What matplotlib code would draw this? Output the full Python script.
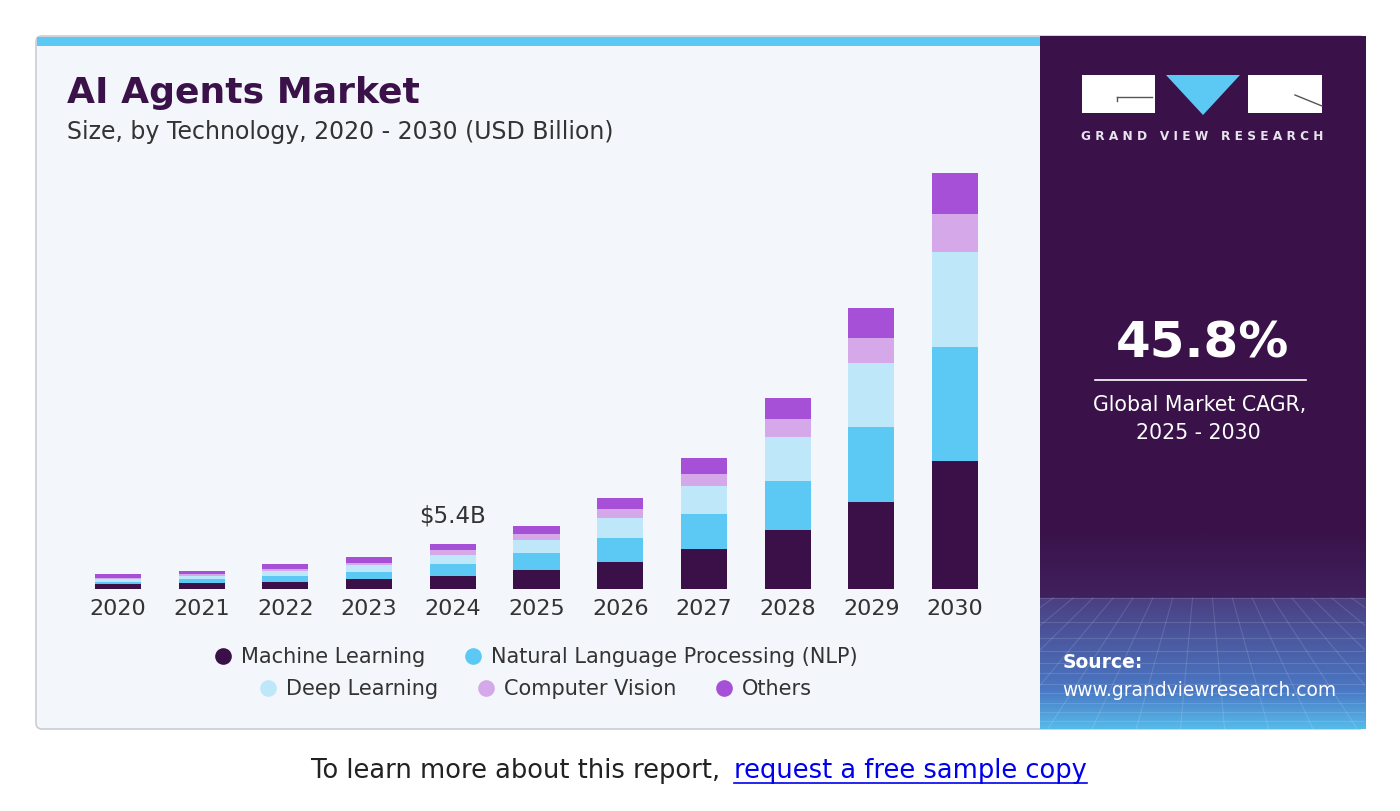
import numpy as np
import matplotlib.pyplot as plt
from matplotlib.patches import Rectangle, FancyBboxPatch, Polygon
from matplotlib.lines import Line2D
from matplotlib.transforms import IdentityTransform
from matplotlib.colors import to_rgb

# market size by technology, USD billion
years = ['2020', '2021', '2022', '2023', '2024', '2025', '2026', '2027', '2028', '2029', '2030']
machine_learning = [0.57, 0.69, 0.88, 1.17, 1.61, 2.29, 3.30, 4.83, 7.13, 10.47, 15.46]
nlp = [0.31, 0.48, 0.69, 0.85, 1.41, 2.02, 2.90, 4.19, 5.95, 9.13, 13.73]
deep_learning = [0.29, 0.40, 0.60, 0.88, 1.09, 1.61, 2.34, 3.42, 5.24, 7.66, 11.55]
computer_vision = [0.19, 0.20, 0.24, 0.28, 0.57, 0.69, 1.09, 1.41, 2.17, 3.02, 4.52]
others = [0.41, 0.43, 0.57, 0.72, 0.72, 1.04, 1.33, 1.93, 2.54, 3.62, 4.95]

series_names = ['Machine Learning', 'Natural Language Processing (NLP)',
                'Deep Learning', 'Computer Vision', 'Others']
series_colors = ['#3b0f48', '#5bc9f3', '#bee8f9', '#d5a9e9', '#a64fd7']
highlight_year = '2024'
highlight_label = '$5.4B'
cagr = '45.8%'

W, H = 1400, 811
DARK = '#3a1249'
TEXT = '#333333'

plt.rcParams['font.family'] = ['DejaVu Sans']
fig = plt.figure(figsize=(W / 100, H / 100), dpi=100)
fig.patch.set_facecolor('white')


def fx(x):
    return x / W


def fy(y):
    return 1 - y / H


def px(x, y):
    return (x, H - y)


# card background
card = FancyBboxPatch(px(36, 729), 1329, 693, boxstyle='round,pad=0,rounding_size=6',
                      transform=IdentityTransform(), facecolor='#f3f6fa',
                      edgecolor='#c9ced4', linewidth=1.2, zorder=-2)
fig.patches.append(card)
strip = Rectangle(px(37, 46), 1004, 9, transform=IdentityTransform(),
                  facecolor='#5bc9f3', edgecolor='none', zorder=-1)
fig.patches.append(strip)

# right panel with gradient
pax = fig.add_axes([fx(1040), fy(729), 325 / W, 693 / H], zorder=0)
rows = 693
grad = np.zeros((rows, 1, 3))
c_dark = np.array(to_rgb(DARK))
c_mid = np.array(to_rgb('#40215e'))
c_band = np.array(to_rgb('#4b3f82'))
c_low = np.array(to_rgb('#4a78c4'))
c_bot = np.array(to_rgb('#56bcea'))
for i in range(rows):
    y = 36 + i
    if y < 530:
        c = c_dark
    elif y < 598:
        t = (y - 530) / 68
        c = c_dark * (1 - t) + c_mid * t
    elif y < 690:
        t = (y - 598) / 92
        c = c_band * (1 - t) + c_low * t
    else:
        t = (y - 690) / 39
        c = c_low * (1 - t) + c_bot * t
    grad[i, 0] = c
pax.imshow(grad, extent=(0, 1, 0, 1), aspect='auto', interpolation='bilinear')
band_top = (729 - 598) / 693
for k in range(12):
    yy = band_top * (1 - (k / 11) ** 0.7)
    pax.plot([0, 1], [yy, yy], color='white', alpha=0.13, lw=0.8)
for x0 in np.linspace(-1.2, 2.2, 26):
    pax.plot([x0, 0.5 + (x0 - 0.5) * 0.45], [0, band_top], color='white', alpha=0.13, lw=0.8)
pax.set_xlim(0, 1)
pax.set_ylim(0, 1)
pax.axis('off')

# logo
fig.patches.append(Rectangle(px(1082, 113), 73, 38, transform=IdentityTransform(),
                             facecolor='white', edgecolor='none', zorder=2))
fig.patches.append(Rectangle(px(1248, 113), 74, 38, transform=IdentityTransform(),
                             facecolor='white', edgecolor='none', zorder=2))
fig.patches.append(Polygon([px(1166, 75), px(1240, 75), px(1203, 115)], closed=True,
                           transform=IdentityTransform(), facecolor='#5bc9f3',
                           edgecolor='none', zorder=2))
fig.lines.append(Line2D([1117, 1152], [H - 97, H - 97], transform=IdentityTransform(),
                        color='#555555', lw=1, zorder=3))
fig.lines.append(Line2D([1117, 1117], [H - 97, H - 101], transform=IdentityTransform(),
                        color='#555555', lw=1, zorder=3))
fig.lines.append(Line2D([1295, 1322], [H - 95, H - 106], transform=IdentityTransform(),
                        color='#555555', lw=1, zorder=3))
fig.text(fx(1202), fy(136), 'G R A N D   V I E W   R E S E A R C H', color='#e8e4ee',
         fontsize=8.7, fontweight='bold', ha='center', va='center', zorder=3)

fig.text(fx(1202), fy(344), cagr, color='white', fontsize=36, fontweight='bold',
         ha='center', va='center', zorder=3)
fig.lines.append(Line2D([1095, 1306], [H - 380, H - 380], transform=IdentityTransform(),
                        color='white', lw=1.2, zorder=3))
fig.text(fx(1200), fy(405), 'Global Market CAGR,', color='white', fontsize=14.8,
         ha='center', va='center', zorder=3)
fig.text(fx(1198), fy(433), '2025 - 2030', color='white', fontsize=14.8,
         ha='center', va='center', zorder=3)
fig.text(fx(1063), fy(663), 'Source:', color='white', fontsize=13.5, fontweight='bold',
         ha='left', va='center', zorder=3)
fig.text(fx(1062), fy(690), 'www.grandviewresearch.com', color='white', fontsize=13.4,
         ha='left', va='center', zorder=3)

# titles
fig.text(fx(67), fy(93), 'AI Agents Market', color=DARK, fontsize=26, fontweight='heavy',
         ha='left', va='center')
fig.text(fx(67), fy(132), 'Size, by Technology, 2020 - 2030 (USD Billion)', color=TEXT,
         fontsize=17, ha='left', va='center')

# stacked bars
step = 83.7
ax_left, ax_right = 80, 995
ax = fig.add_axes([fx(ax_left), fy(589), (ax_right - ax_left) / W, (589 - 160) / H], zorder=1)
ax.patch.set_alpha(0)
x = np.arange(len(years))
series = [machine_learning, nlp, deep_learning, computer_vision, others]
bottom = np.zeros(len(years))
for vals, name, col in zip(series, series_names, series_colors):
    ax.bar(x, vals, width=0.55, bottom=bottom, color=col, label=name, edgecolor='none')
    bottom += np.array(vals)
ax.set_xlim(-(118 - ax_left) / step, 10 + (ax_right - 955) / step)
ax.set_ylim(0, (589 - 160) / 8.28)
ax.set_xticks(x)
ax.set_xticklabels(years, fontsize=16, color=TEXT)
ax.tick_params(axis='x', length=0, pad=7)
ax.set_yticks([])
for s in ax.spines.values():
    s.set_visible(False)

hi = years.index(highlight_year)
ax.annotate(highlight_label, (x[hi], bottom[hi]), xytext=(0, 12), textcoords='offset points',
            ha='center', va='bottom', fontsize=16.5, color=TEXT)

# legend in two centred rows
handles = [Line2D([], [], marker='o', linestyle='none', markersize=12,
                  markerfacecolor=c, markeredgecolor='none') for c in series_colors]
leg_kw = dict(loc='center', frameon=False, fontsize=15, handlelength=0.8,
              handletextpad=0.45, columnspacing=1.9, labelcolor=TEXT)
fig.legend(handles[:2], series_names[:2], bbox_to_anchor=(fx(536), fy(657)), ncol=2, **leg_kw)
fig.legend(handles[2:], series_names[2:], bbox_to_anchor=(fx(536), fy(689)), ncol=3, **leg_kw)

# footer
fig.text(fx(728), fy(771), 'To learn more about this report, ', color='#222222',
         fontsize=18.5, ha='right', va='center')
link = fig.text(fx(734), fy(771), 'request a free sample copy', color='#0000ee',
                fontsize=18.5, ha='left', va='center')
renderer = fig.canvas.get_renderer()
bb = link.get_window_extent(renderer)
fig.lines.append(Line2D([bb.x0, bb.x1], [bb.y0 + 1, bb.y0 + 1], transform=IdentityTransform(),
                        color='#0000ee', lw=1.2))

fig.savefig('out.png', dpi=100, facecolor='white')
